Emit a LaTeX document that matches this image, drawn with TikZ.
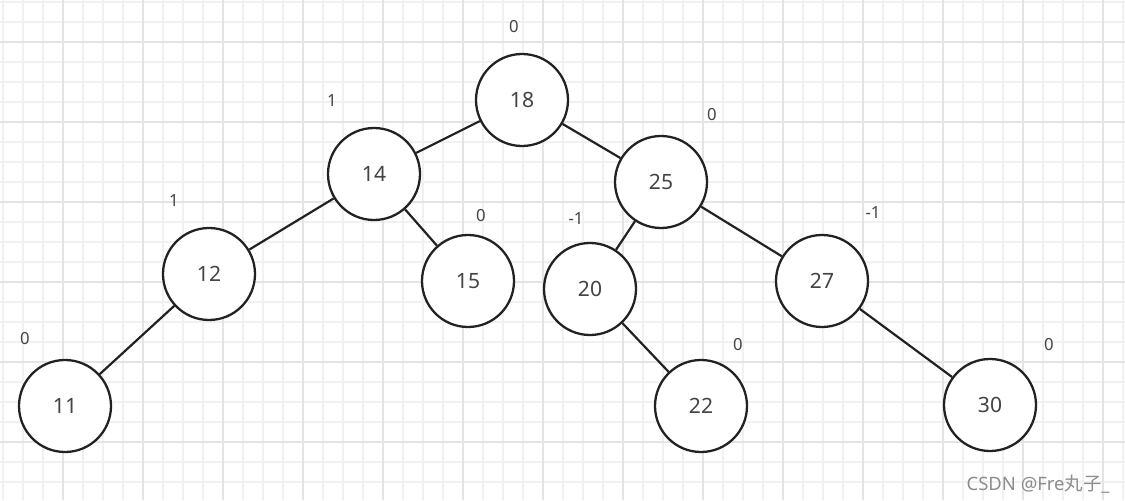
\documentclass[tikz,border=0pt]{standalone}
\usepackage{fontspec}
\setmainfont{Noto Sans}
\newfontfamily\cjk{Noto Sans CJK SC}
\definecolor{minorgrid}{HTML}{F1F1F1}
\definecolor{majorgrid}{HTML}{E4E4E4}
\definecolor{ink}{HTML}{222222}
\definecolor{txt}{HTML}{444444}
\begin{document}
\begin{tikzpicture}[x=0.02cm,y=-0.02cm,
  vert/.style={circle,draw=ink,line width=1.3pt,minimum size=92*0.02cm,inner sep=0pt,fill=white,text=txt,font=\fontsize{12}{14}\selectfont},
  bal/.style={text=txt,font=\fontsize{9.5}{11}\selectfont,inner sep=0pt},
  edge/.style={draw=ink,line width=1.25pt}]
\useasboundingbox (0,0) rectangle (1125,500);
\fill[white] (0,0) rectangle (1125,500);
% grid
\foreach \x in {3,23,...,1123} \draw[minorgrid,line width=0.6pt] (\x,0) -- (\x,500);
\foreach \y in {2,22,...,500} \draw[minorgrid,line width=0.6pt] (0,\y) -- (1125,\y);
\foreach \x in {63,143,...,1123} \draw[majorgrid,line width=0.8pt] (\x,0) -- (\x,500);
\foreach \y in {42,122,...,500} \draw[majorgrid,line width=0.8pt] (0,\y) -- (1125,\y);
% nodes
\node[vert] (n18) at (522,100) {18};
\node[vert] (n14) at (374,174) {14};
\node[vert] (n25) at (661,182) {25};
\node[vert] (n12) at (209,274) {12};
\node[vert] (n15) at (468,281) {15};
\node[vert] (n20) at (590,289) {20};
\node[vert] (n27) at (822,281) {27};
\node[vert] (n11) at (65,406) {11};
\node[vert] (n22) at (701,406) {22};
\node[vert] (n30) at (990,405) {30};
% edges
\draw[edge] (n18) -- (n14);
\draw[edge] (n18) -- (n25);
\draw[edge] (n14) -- (n12);
\draw[edge] (n14) -- (n15);
\draw[edge] (n25) -- (n20);
\draw[edge] (n25) -- (n27);
\draw[edge] (n12) -- (n11);
\draw[edge] (n20) -- (n22);
\draw[edge] (n27) -- (n30);
% balance labels
\node[bal] (b18) at (514,27) {0};
\node[bal] (b14) at (332,101) {1};
\node[bal] (b25) at (712,115) {0};
\node[bal] (b12) at (174,201) {1};
\node[bal] (b15) at (481,216) {0};
\node[bal] (b20) at (576,219) {-1};
\node[bal] (b27) at (873,213) {-1};
\node[bal] (b11) at (25,339) {0};
\node[bal] (b22) at (738,345) {0};
\node[bal] (b30) at (1049,345) {0};
% watermark
\node[text=gray!90,font=\fontsize{10.5}{12}\selectfont,anchor=east,inner sep=0pt] (wm) at (1110,484) {CSDN @Fre{\cjk 丸子}\_};
\end{tikzpicture}
\end{document}
